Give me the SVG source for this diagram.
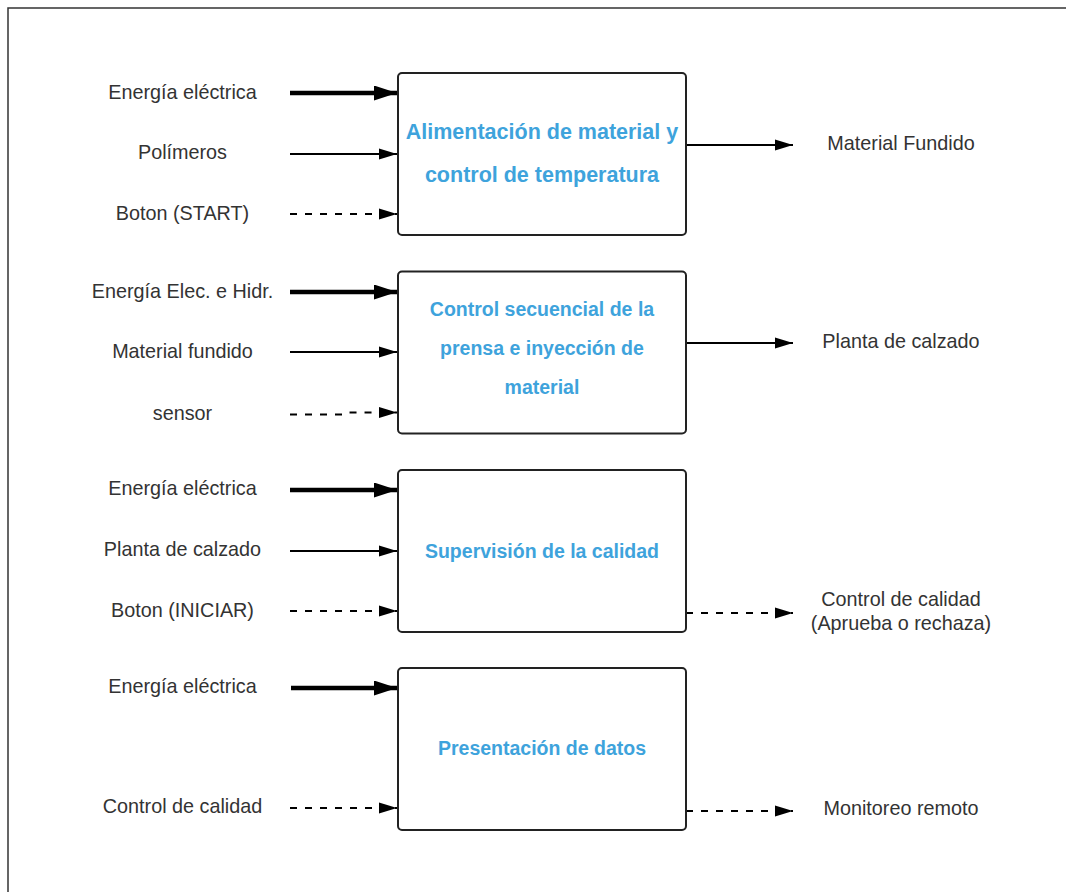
<svg xmlns="http://www.w3.org/2000/svg" width="1066" height="892" viewBox="0 0 1066 892">
<style>
.lbl{font-family:"Liberation Sans",Arial,sans-serif;font-size:19.8px;fill:#333;text-anchor:middle}
.ttl{font-family:"Liberation Sans",Arial,sans-serif;font-size:19.5px;font-weight:bold;fill:#3ea3dc;text-anchor:middle}
.big{font-size:21.5px}
.box{fill:#fff;stroke:#222;stroke-width:2}
.thick{stroke:#000;stroke-width:4.5;fill:none}
.thin{stroke:#000;stroke-width:1.8;fill:none}
.dash{stroke:#000;stroke-width:1.8;fill:none;stroke-dasharray:7 8}
</style>
<defs>
<marker id="hb" markerUnits="userSpaceOnUse" markerWidth="23" markerHeight="15" refX="23" refY="7.5" orient="auto"><path d="M0,0 L23,7.5 L0,15 z" fill="#000"/></marker>
<marker id="hs" markerUnits="userSpaceOnUse" markerWidth="18" markerHeight="12" refX="18" refY="6" orient="auto"><path d="M0,0.5 L18,6 L0,11.5 z" fill="#000"/></marker>
</defs>
<rect width="1066" height="892" fill="#fff"/>
<path d="M8,892 V8 H1066" fill="none" stroke="#333" stroke-width="1.5"/>

<g id="connectors">
<line class="thick" x1="290" y1="93" x2="397" y2="93" marker-end="url(#hb)"/>
<line class="thin" x1="290" y1="154" x2="397" y2="154" marker-end="url(#hs)"/>
<line class="dash" x1="290" y1="214" x2="397" y2="214" marker-end="url(#hs)"/>
<line class="thin" x1="686" y1="145" x2="793" y2="145" marker-end="url(#hs)"/>

<line class="thick" x1="290" y1="292" x2="397" y2="292" marker-end="url(#hb)"/>
<line class="thin" x1="290" y1="352" x2="397" y2="352" marker-end="url(#hs)"/>
<path class="dash" d="M290,414.5 H344 L348,412.5 H397" marker-end="url(#hs)"/>
<line class="thin" x1="686" y1="343" x2="793" y2="343" marker-end="url(#hs)"/>

<line class="thick" x1="290" y1="490" x2="397" y2="490" marker-end="url(#hb)"/>
<line class="thin" x1="290" y1="551" x2="397" y2="551" marker-end="url(#hs)"/>
<line class="dash" x1="290" y1="611" x2="397" y2="611" marker-end="url(#hs)"/>
<line class="dash" x1="686" y1="613" x2="793" y2="613" marker-end="url(#hs)"/>

<line class="thick" x1="291" y1="688" x2="397" y2="688" marker-end="url(#hb)"/>
<line class="dash" x1="290" y1="808" x2="397" y2="808" marker-end="url(#hs)"/>
<line class="dash" x1="686" y1="811" x2="793" y2="811" marker-end="url(#hs)"/>
</g>

<g id="labels">
<text class="lbl" x="182.5" y="99">Energía eléctrica</text>
<text class="lbl" x="182.5" y="159">Polímeros</text>
<text class="lbl" x="182.5" y="220">Boton (START)</text>
<text class="lbl" x="901" y="150">Material Fundido</text>

<text class="lbl" x="182.5" y="298">Energía Elec. e Hidr.</text>
<text class="lbl" x="182.5" y="358">Material fundido</text>
<text class="lbl" x="182.5" y="420">sensor</text>
<text class="lbl" x="901" y="348">Planta de calzado</text>

<text class="lbl" x="182.5" y="495">Energía eléctrica</text>
<text class="lbl" x="182.5" y="556">Planta de calzado</text>
<text class="lbl" x="182.5" y="617">Boton (INICIAR)</text>
<text class="lbl" x="901" y="606">Control de calidad</text>
<text class="lbl" x="901" y="630">(Aprueba o rechaza)</text>

<text class="lbl" x="182.5" y="693">Energía eléctrica</text>
<text class="lbl" x="182.5" y="813">Control de calidad</text>
<text class="lbl" x="901" y="815">Monitoreo remoto</text>
</g>

<g id="node1">
<rect class="box" x="398" y="73" width="288" height="162" rx="4"/>
<text class="ttl big" x="542" y="139">Alimentación de material y</text>
<text class="ttl big" x="542" y="182">control de temperatura</text>
</g>
<g id="node2">
<rect class="box" x="398" y="271.5" width="288" height="162" rx="4"/>
<text class="ttl" x="542" y="316">Control secuencial de la</text>
<text class="ttl" x="542" y="355">prensa e inyección de</text>
<text class="ttl" x="542" y="394">material</text>
</g>
<g id="node3">
<rect class="box" x="398" y="470" width="288" height="162" rx="4"/>
<text class="ttl" x="542" y="558">Supervisión de la calidad</text>
</g>
<g id="node4">
<rect class="box" x="398" y="668" width="288" height="162" rx="4"/>
<text class="ttl" x="542" y="755">Presentación de datos</text>
</g>
</svg>
